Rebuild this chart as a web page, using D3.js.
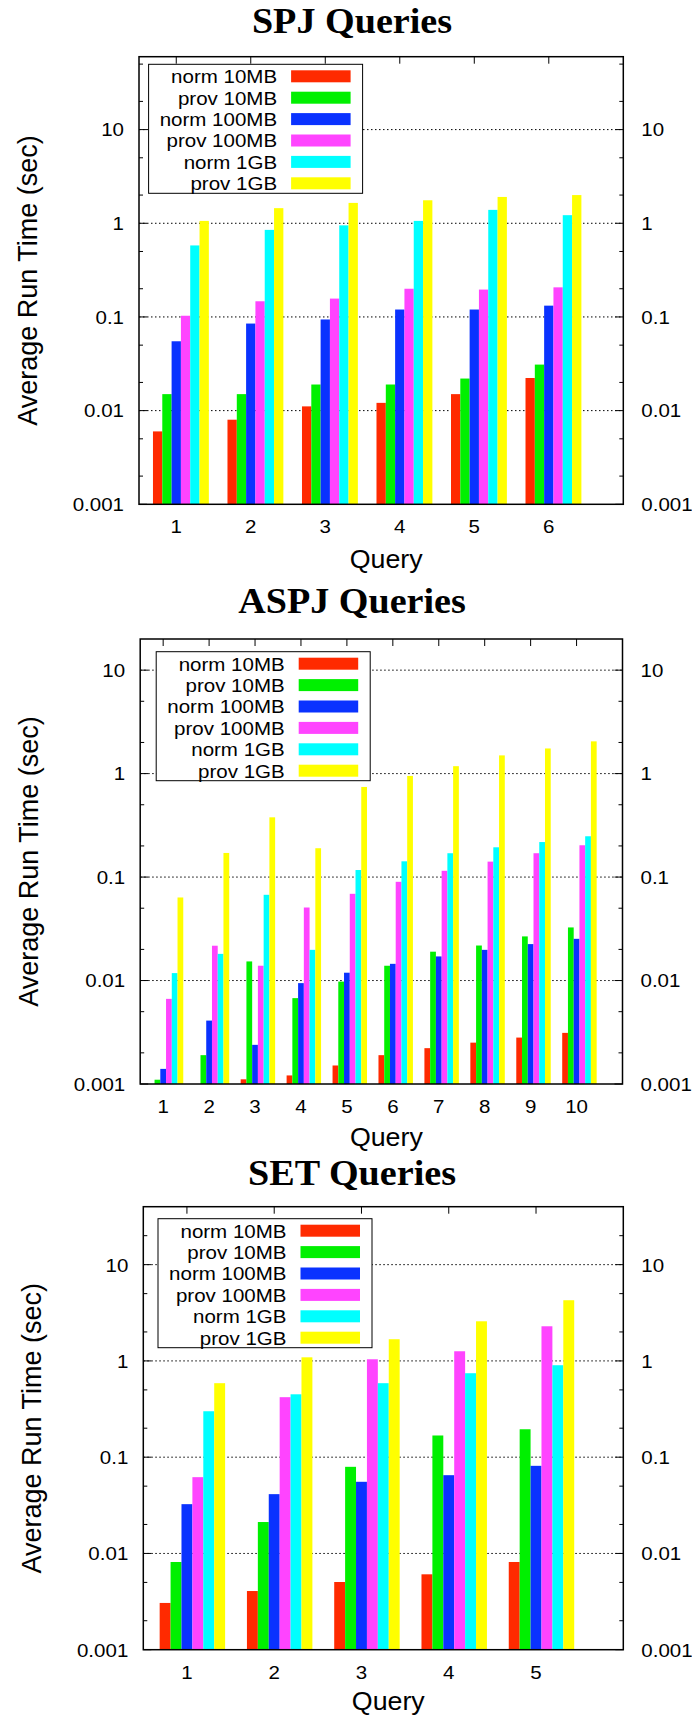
<!DOCTYPE html>
<html>
<head>
<meta charset="utf-8">
<script src="https://cdn.jsdelivr.net/npm/d3@7"></script>
<style>
  body { margin: 0; background: #fff; }
  text { fill: #000; }
</style>
</head>
<body>
<div id="chart"></div>
<script>
// series, in bar order inside each cluster
const seriesNames = ["norm 10MB", "prov 10MB", "norm 100MB", "prov 100MB", "norm 1GB", "prov 1GB"];
const seriesColors = ["#ff2a00", "#00f000", "#0a32ff", "#ff44ff", "#00ffff", "#ffff00"];

const yTicks = [0.001, 0.01, 0.1, 1, 10];
const yTickLabels = ["0.001", "0.01", "0.1", "1", "10"];

// SPJ
const spjQueries = [1, 2, 3, 4, 5, 6];
const spjTimes = [
  [0.006, 0.008, 0.0111, 0.0121, 0.015, 0.0223],
  [0.015, 0.015, 0.019, 0.019, 0.022, 0.031],
  [0.055, 0.085, 0.094, 0.12, 0.12, 0.132],
  [0.103, 0.147, 0.157, 0.2, 0.196, 0.207],
  [0.58, 0.85, 0.95, 1.06, 1.39, 1.22],
  [1.06, 1.45, 1.65, 1.76, 1.91, 2.0]
];

// ASPJ (null = below 0.001, no bar drawn)
const aspjQueries = [1, 2, 3, 4, 5, 6, 7, 8, 9, 10];
const aspjTimes = [
  [null, null, 0.00111, 0.00121, 0.00151, 0.0019, 0.00222, 0.00251, 0.00281, 0.00312],
  [0.0011, 0.0019, 0.0153, 0.00676, 0.00977, 0.0139, 0.019, 0.0218, 0.0267, 0.0326],
  [0.0014, 0.0041, 0.00239, 0.00944, 0.0119, 0.0145, 0.0171, 0.0198, 0.0225, 0.0253],
  [0.00665, 0.0217, 0.0139, 0.0508, 0.0689, 0.09, 0.115, 0.141, 0.17, 0.203],
  [0.0118, 0.0181, 0.0674, 0.0198, 0.117, 0.142, 0.17, 0.194, 0.218, 0.248],
  [0.0635, 0.171, 0.378, 0.19, 0.743, 0.95, 1.18, 1.5, 1.75, 2.05]
];

// SET
const setQueries = [1, 2, 3, 4, 5];
const setTimes = [
  [0.00306, 0.00407, 0.00505, 0.00607, 0.00815],
  [0.00815, 0.0212, 0.0794, 0.168, 0.195],
  [0.0325, 0.0413, 0.0555, 0.065, 0.0813],
  [0.062, 0.42, 1.04, 1.26, 2.29],
  [0.3, 0.45, 0.587, 0.745, 0.902],
  [0.587, 1.09, 1.68, 2.58, 4.27]
];

const W = 692, H = 1719;

const charts = [
  {title: "SPJ Queries", queries: spjQueries, times: spjTimes, yMax: 60,
   frame: {l: 139, r: 623.3, t: 56.7, b: 504.3}, titleY: 33.3, qY: 64, leg: [9.6, 7.6]},
  {title: "ASPJ Queries", queries: aspjQueries, times: aspjTimes, yMax: 20,
   frame: {l: 140.2, r: 622.5, t: 639, b: 1084}, titleY: 613.3, qY: 62, leg: [16, 12.7]},
  {title: "SET Queries", queries: setQueries, times: setTimes, yMax: 40,
   frame: {l: 143.3, r: 623.3, t: 1206.7, b: 1649.7}, titleY: 1185, qY: 60, leg: [14.7, 12]}
];

const svg = d3.select("#chart").append("svg")
  .attr("width", W)
  .attr("height", H);

svg.append("rect").attr("width", W).attr("height", H).attr("fill", "#fff");

// text with a horizontal stretch (the original fonts run wider)
function label(g, x, y, str, opts) {
  return g.append("text")
    .attr("transform", `translate(${x},${y}) scale(${opts.sx || 1},1)`)
    .attr("text-anchor", opts.anchor || "middle")
    .attr("dy", opts.dy || null)
    .style("font-family", opts.family || "'Liberation Sans', Arial, sans-serif")
    .style("font-size", opts.size + "px")
    .style("font-weight", opts.weight || "normal")
    .text(str);
}

charts.forEach(c => {
  const f = c.frame;
  const g = svg.append("g");
  const n = c.queries.length;

  const x = d3.scaleLinear().domain([0.5, n + 1]).range([f.l, f.r]);
  const y = d3.scaleLog().domain([0.001, c.yMax]).range([f.b, f.t]);

  // title
  label(g, 352, c.titleY, c.title,
    {size: 35, weight: "bold", sx: 1.09, family: "'Liberation Serif', 'Times New Roman', serif"});

  // grid lines at decades
  g.selectAll(".grid")
    .data(yTicks.filter(v => v > 0.001))
    .enter().append("line")
    .attr("x1", f.l).attr("x2", f.r)
    .attr("y1", d => y(d)).attr("y2", d => y(d))
    .attr("stroke", "#000")
    .attr("stroke-width", 1)
    .attr("stroke-dasharray", "1.5,2.5");

  // minor y tics (2 and 5 in each decade) on both sides
  const minor = [];
  yTicks.forEach(v => [2, 5].forEach(m => { if (v * m < c.yMax) minor.push(v * m); }));
  [[f.l, 1], [f.r, -1]].forEach(([x0, s]) => {
    g.selectAll(null).data(minor).enter().append("line")
      .attr("x1", x0).attr("x2", x0 + s * 4)
      .attr("y1", d => y(d)).attr("y2", d => y(d))
      .attr("stroke", "#000");
    g.selectAll(null).data(yTicks).enter().append("line")
      .attr("x1", x0).attr("x2", x0 + s * 8)
      .attr("y1", d => y(d)).attr("y2", d => y(d))
      .attr("stroke", "#000");
  });

  // x tics, top and bottom
  [[f.t, 1], [f.b, -1]].forEach(([y0, s]) => {
    g.selectAll(null).data(c.queries).enter().append("line")
      .attr("x1", d => x(d)).attr("x2", d => x(d))
      .attr("y1", y0).attr("y2", y0 + s * 7)
      .attr("stroke", "#000");
  });

  // bars: 6 per cluster, each 1/8 of a unit wide, 3rd bar centred on the tic
  c.times.forEach((vals, j) => {
    g.selectAll(null)
      .data(vals.map((v, i) => ({q: c.queries[i], v: v})).filter(d => d.v != null))
      .enter().append("rect")
      .attr("x", d => x(d.q + (j - 2.5) / 8))
      .attr("width", d => x(d.q + (j - 1.5) / 8) - x(d.q + (j - 2.5) / 8))
      .attr("y", d => y(d.v))
      .attr("height", d => f.b - y(d.v))
      .attr("fill", seriesColors[j]);
  });

  // frame
  g.append("rect")
    .attr("x", f.l).attr("y", f.t)
    .attr("width", f.r - f.l).attr("height", f.b - f.t)
    .attr("fill", "none")
    .attr("stroke", "#000")
    .attr("stroke-width", 1.5);

  // y tick labels, left and right
  yTicks.forEach((v, i) => {
    label(g, f.l - 15, y(v), yTickLabels[i], {size: 19, sx: 1.08, anchor: "end", dy: "0.36em"});
    label(g, f.r + 18, y(v), yTickLabels[i], {size: 19, sx: 1.08, anchor: "start", dy: "0.36em"});
  });

  // x tick labels
  c.queries.forEach(q => {
    label(g, x(q), f.b + 29, String(q), {size: 19, sx: 1.08});
  });

  // axis titles
  label(g, (f.l + f.r) / 2 + 5, f.b + c.qY, "Query", {size: 26, sx: 1.03});
  g.append("text")
    .attr("transform", `translate(${f.l - 102.5},${(f.t + f.b) / 2}) rotate(-90)`)
    .attr("text-anchor", "middle")
    .style("font-family", "'Liberation Sans', Arial, sans-serif")
    .style("font-size", "27px")
    .text("Average Run Time (sec)");

  // legend
  const lx = f.l + c.leg[0], ly = f.t + c.leg[1];
  const leg = g.append("g");
  leg.append("rect")
    .attr("x", lx).attr("y", ly)
    .attr("width", 214).attr("height", 129)
    .attr("fill", "#fff")
    .attr("stroke", "#000")
    .attr("stroke-width", 1);
  seriesNames.forEach((name, i) => {
    const cy = ly + 12 + i * 21.4;
    label(leg, lx + 128.5, cy, name, {size: 19, sx: 1.08, anchor: "end", dy: "0.36em"});
    leg.append("rect")
      .attr("x", lx + 142.5).attr("y", cy - 6)
      .attr("width", 59.5).attr("height", 12)
      .attr("fill", seriesColors[i]);
  });
});
</script>
</body>
</html>
